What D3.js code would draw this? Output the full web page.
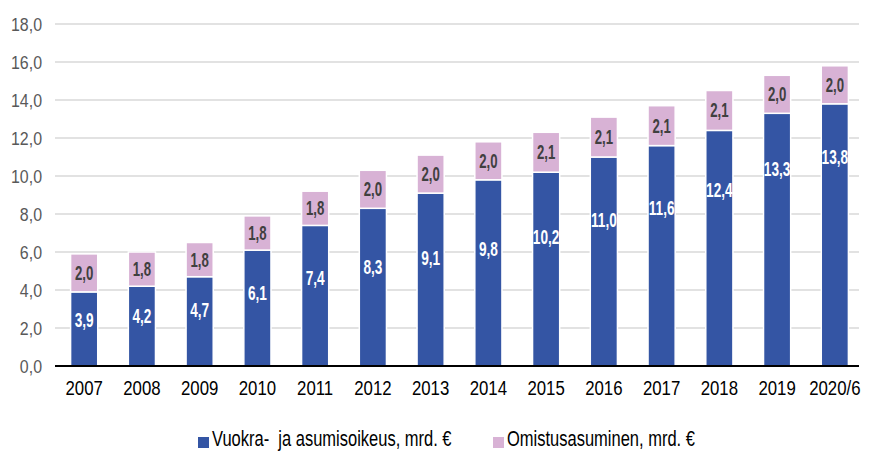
<!DOCTYPE html>
<html>
<head>
<meta charset="utf-8">
<script src="https://cdn.jsdelivr.net/npm/d3@7"></script>
<style>
  body { margin: 0; background: #fff; }
  text { font-family: "Liberation Sans", Arial, sans-serif; }
</style>
</head>
<body>
<div id="chart"></div>
<script>
// data
let years = ["2007", "2008", "2009", "2010", "2011", "2012", "2013", "2014", "2015", "2016", "2017", "2018", "2019", "2020/6"];
let vuokra = [3.9, 4.2, 4.7, 6.1, 7.4, 8.3, 9.1, 9.8, 10.2, 11.0, 11.6, 12.4, 13.3, 13.8];
let omistus = [2.0, 1.8, 1.8, 1.8, 1.8, 2.0, 2.0, 2.0, 2.1, 2.1, 2.1, 2.1, 2.0, 2.0];
let yTicks = [0, 2, 4, 6, 8, 10, 12, 14, 16, 18];
let seriesNames = ["Vuokra-\u00a0 ja asumisoikeus, mrd. €", "Omistusasuminen, mrd. €"];
let colors = ["#3455a4", "#d8b2d5"];

let width = 874, height = 451;
let margin = {left: 55, right: 10, top: 24, bottom: 85};

let svg = d3.select("#chart")
    .append("svg")
    .attr("width", width)
    .attr("height", height);

let x = d3.scaleBand()
    .domain(years)
    .range([margin.left, width - margin.right])
    .paddingInner(0.53)
    .paddingOuter(0.27);

let y = d3.scaleLinear()
    .domain([0, 18])
    .range([height - margin.bottom, margin.top]);

let fmt = d => d.toFixed(1).replace(".", ",");

// no condensed font installed, so squeeze text horizontally
function squeeze(sel, px, py, sx) {
    return sel.attr("transform", (d, i) => `translate(${px(d, i)}, ${py(d, i)}) scale(${sx}, 1)`);
}

// gridlines
svg.append("g")
    .selectAll("line")
    .data(yTicks.filter(d => d > 0))
    .enter()
    .append("line")
    .attr("x1", margin.left)
    .attr("x2", width - margin.right - 5)
    .attr("y1", d => y(d))
    .attr("y2", d => y(d))
    .attr("stroke", "#d9d9d9")
    .attr("stroke-width", 1.3);

// y tick labels
squeeze(svg.append("g")
    .selectAll("text")
    .data(yTicks)
    .enter()
    .append("text"), d => 42, d => y(d) + 7, 0.84)
    .attr("text-anchor", "end")
    .style("font-size", "19px")
    .attr("fill", "#595959")
    .text(fmt);

let data = years.map((yr, i) => ({year: yr, a: vuokra[i], b: omistus[i]}));

// blue segments
svg.append("g")
    .selectAll("rect")
    .data(data)
    .enter()
    .append("rect")
    .attr("x", d => x(d.year))
    .attr("y", d => y(d.a))
    .attr("width", x.bandwidth())
    .attr("height", d => y(0) - y(d.a))
    .attr("fill", colors[0])
    .attr("stroke", "#fff")
    .attr("stroke-width", 1.5);

// pink segments
svg.append("g")
    .selectAll("rect")
    .data(data)
    .enter()
    .append("rect")
    .attr("x", d => x(d.year))
    .attr("y", d => y(d.a + d.b))
    .attr("width", x.bandwidth())
    .attr("height", d => y(d.a) - y(d.a + d.b))
    .attr("fill", colors[1])
    .attr("stroke", "#fff")
    .attr("stroke-width", 1.5);

let cx = d => x(d.year) + x.bandwidth() / 2;

// blue labels sit above the middle, higher on the taller bars
let labelFrac = d => d.a < 10 ? 0.63 : 0.67 + 0.036 * (d.a - 10.2);

squeeze(svg.append("g")
    .selectAll("text")
    .data(data)
    .enter()
    .append("text"), cx, d => y(d.a * labelFrac(d)) + 7.5, 0.65)
    .attr("text-anchor", "middle")
    .style("font-size", "21px")
    .style("font-weight", "bold")
    .attr("fill", "#fff")
    .text(d => fmt(d.a));

squeeze(svg.append("g")
    .selectAll("text")
    .data(data)
    .enter()
    .append("text"), cx, d => y(d.a + d.b / 2) + 7, 0.66)
    .attr("text-anchor", "middle")
    .style("font-size", "20px")
    .style("font-weight", "bold")
    .attr("fill", "#404040")
    .text(d => fmt(d.b));

// baseline
svg.append("line")
    .attr("x1", margin.left)
    .attr("x2", width - margin.right - 5)
    .attr("y1", y(0))
    .attr("y2", y(0))
    .attr("stroke", "#000")
    .attr("stroke-width", 2);

// x labels
squeeze(svg.append("g")
    .selectAll("text")
    .data(years)
    .enter()
    .append("text"), d => x(d) + x.bandwidth() / 2, d => y(0) + 29, 0.8)
    .attr("text-anchor", "middle")
    .style("font-size", "21px")
    .attr("fill", "#000")
    .text(d => d);

// legend
let legendX = [198, 493];
let legend = svg.append("g")
    .selectAll("g")
    .data(seriesNames)
    .enter()
    .append("g")
    .attr("transform", (d, i) => `translate(${legendX[i]}, 438)`);

legend.append("rect")
    .attr("x", 0)
    .attr("y", -1)
    .attr("width", 11)
    .attr("height", 11)
    .attr("fill", (d, i) => colors[i]);

legend.append("text")
    .attr("transform", "translate(14, 8) scale(0.75, 1)")
    .style("font-size", "22px")
    .attr("fill", "#000")
    .text(d => d);
</script>
</body>
</html>
